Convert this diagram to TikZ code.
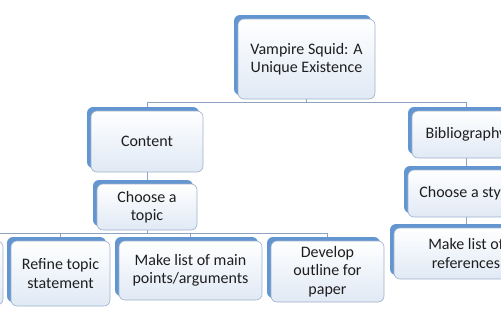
\documentclass[tikz,border=0pt]{standalone}
\usepackage{fontspec}
\setmainfont{Carlito}
\usetikzlibrary{
  backgrounds,
  shadows
}
\definecolor{squidEdge}{HTML}{6396D0}
\definecolor{squidLine}{HTML}{9DB2CC}
\definecolor{squidSky}{HTML}{E0E9F5}
\definecolor{squidWire}{HTML}{8CA4C2}
\definecolor{squidText}{HTML}{1E1E1E}

\begin{document}
\begin{tikzpicture}[
  x=1pt, y=-1pt,
  font=\fontsize{16}{18.5}\selectfont,
  box/.style={
    draw=squidLine,
    rounded corners=6pt,
    line width=0.6pt,
    top color=white,
    bottom color=squidSky,
    text=squidText,
    align=center,
    inner sep=2pt,
    drop shadow={shadow xshift=-4pt, shadow yshift=4pt, fill=squidEdge, opacity=1}
  },
  wire/.style={draw=squidWire, line width=0.7pt}
]
\useasboundingbox (0,0) rectangle (501,325);

% top level
\node[box, minimum width=137pt, minimum height=80pt] (root) at (306.5,59) {Vampire Squid: A\\Unique Existence};
\node[box, minimum width=112pt, minimum height=61pt] (content) at (147,141.5) {Content};
\node[box, minimum width=108pt, minimum height=47pt] (biblio) at (466,134.5) {Bibliography};

% content branch
\node[box, minimum width=100pt, minimum height=46pt] (choose) at (147,207) {Choose a\\topic};
\node[box, minimum width=106pt, minimum height=64pt] (farleft) at (-50,273) {};
\node[box, minimum width=99pt, minimum height=65pt] (refine) at (60.5,273.5) {Refine topic\\statement};
\node[box, minimum width=143pt, minimum height=59pt] (points) at (190.5,270.5) {Make list of main\\points/arguments};
\node[box, minimum width=113pt, minimum height=61pt] (outline) at (327.5,271.5) {Develop\\outline for\\paper};

% bibliography branch
\node[box, minimum width=116pt, minimum height=47pt] (style) at (466,193.5) {Choose a style};
\node[box, minimum width=144pt, minimum height=51pt] (refs) at (466,253.5) {Make list of\\references};

\begin{scope}[on background layer]
  \coordinate (topbus) at ([yshift=-3.5pt]root.south);
  \draw[wire] (root.south) -- (topbus);
  \draw[wire] (content.north) |- (topbus) -| (biblio.north);
  \draw[wire] (content.south) -- (choose.north);
  \coordinate (lowbus) at ([yshift=-3pt]choose.south);
  \draw[wire] (choose.south) -- (lowbus);
  \draw[wire] (farleft.north) |- (lowbus) -| (outline.north);
  \draw[wire] (refine.north) -- (refine.north |- lowbus);
  \draw[wire] (points.north) -- (points.north |- lowbus);
  \draw[wire] (biblio.south) -- (style.north);
  \draw[wire] (style.south) -- (refs.north);
\end{scope}
\end{tikzpicture}
\end{document}
